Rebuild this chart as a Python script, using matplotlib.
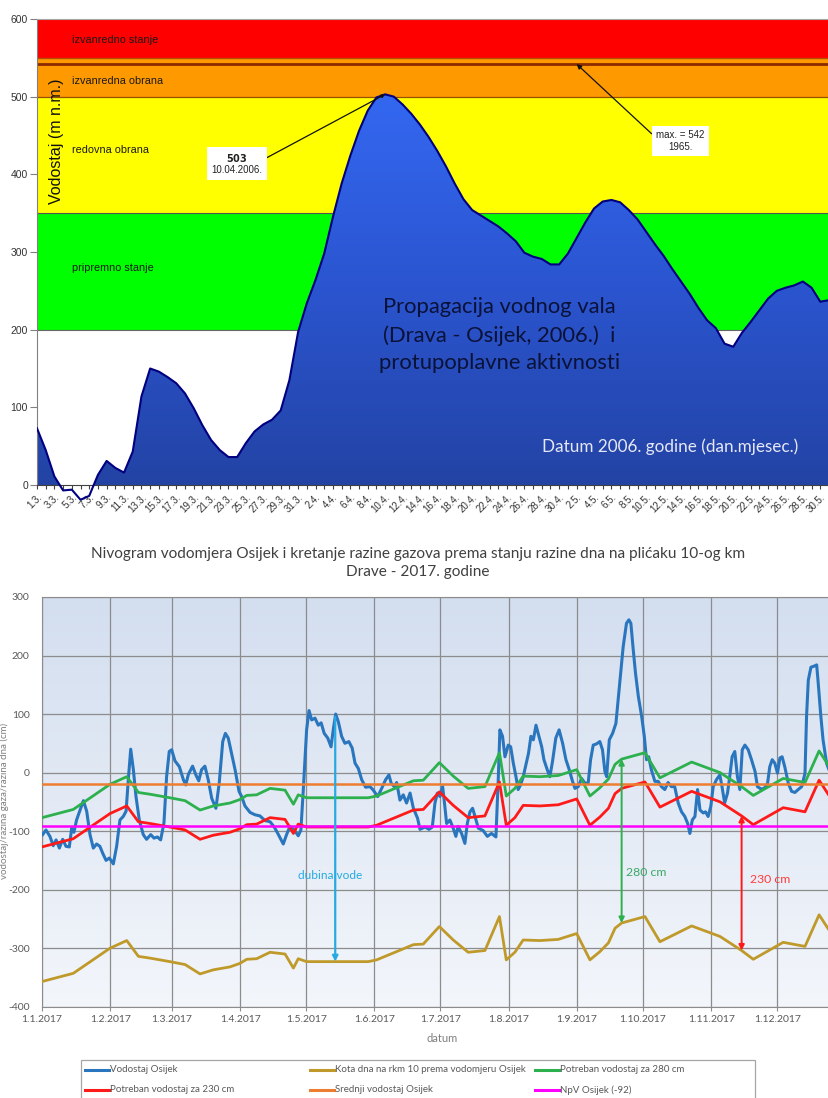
import numpy as np
import pandas as pd
import matplotlib
matplotlib.use("Agg")
import matplotlib.pyplot as plt
from matplotlib.colors import LinearSegmentedColormap
from matplotlib.patches import Polygon, Rectangle
from matplotlib.lines import Line2D

# ---------------- 2006: Drava - Osijek, daily water level from 1.3. ----------------
pocetak_2006 = "2006-03-01"
vodostaj_2006 = [73, 45, 11, -7, -6, -19, -14, 13, 31, 22,
                 16, 43, 114, 150, 146, 139, 131, 118, 99, 77,
                 58, 45, 36, 36, 54, 69, 78, 84, 96, 135,
                 197, 234, 264, 298, 345, 388, 424, 456, 482, 499,
                 503, 500, 490, 478, 464, 448, 430, 410, 388, 368,
                 354, 347, 340, 333, 324, 314, 299, 294, 291, 284,
                 284, 298, 318, 338, 356, 365, 367, 364, 354, 342,
                 326, 310, 295, 278, 262, 246, 228, 212, 202, 182,
                 178, 196, 210, 225, 240, 250, 254, 257, 262, 254,
                 236, 238]

pojas_naziv = ["pripremno stanje", "redovna obrana", "izvanredna obrana", "izvanredno stanje"]
pojas_od = [200, 350, 500, 550]
pojas_do = [350, 500, 550, 600]
pojas_boja = ["#00ff00", "#ffff00", "#ff9900", "#ff0000"]
pojas_tekst_y = [280, 431, 520, 573]
max_1965 = 542
vrh_dan = 40
vrh_cm = 503

# ---------------- 2017: Osijek gauge and ford levels ----------------
vod_dan = [0.3, 1.8, 3.6, 5.1, 6.4, 7.9, 9.4, 10.9, 12.4, 13.5, 14.5, 15.7, 17.3, 18.8, 20.3,
           21.8, 23.3, 24.8, 26.3, 27.6, 29.1, 30.6, 32.4, 33.9, 35.4, 36.9, 38.2, 39.2, 40.3,
           41.5, 42.7, 44.2, 46.0, 47.5, 49.4, 50.9, 52.4, 53.9, 55.4, 56.6, 57.8, 58.9, 60.4,
           62.4, 64.2, 65.3, 66.5, 68.4, 69.9, 71.2, 72.5, 74.0, 75.5, 77.1, 79.0, 80.5, 82.1,
           83.3, 84.6, 86.1, 87.7, 89.5, 90.7, 92.2, 94.5, 96.7, 99.0, 101.3, 103.6, 105.5,
           107.4, 109.6, 111.1, 112.6, 114.6, 116.4, 117.6, 118.7, 120.2, 121.3, 122.5, 124.0,
           125.5, 126.8, 128.2, 129.8, 131.3, 132.3, 133.4, 134.6, 136.1, 137.6, 139.4, 140.9,
           142.2, 143.7, 145.2, 147.0, 149.0, 150.5, 152.5, 154.3, 156.1, 157.6, 158.6, 160.0,
           161.1, 162.6, 164.1, 165.6, 167.2, 168.7, 170.6, 171.7, 174.0, 175.8, 177.3, 178.5,
           179.6, 180.8, 182.0, 183.0, 183.8, 185.3, 186.8, 188.0, 189.0, 190.6, 192.1, 193.2,
           194.4, 195.6, 196.7, 198.2, 200.4, 202.3, 204.2, 206.2, 207.3, 208.0, 209.2, 210.3,
           211.8, 212.9, 214.1, 215.3, 216.3, 217.4, 218.6, 219.8, 221.0, 222.1, 223.2, 224.4,
           225.4, 227.0, 228.0, 229.5, 230.7, 231.9, 233.4, 234.9, 236.5, 238.0, 239.5, 241.0,
           242.1, 243.6, 245.1, 246.6, 248.1, 249.2, 250.4, 251.9, 253.4, 254.6, 255.7, 256.5,
           257.7, 259.2, 260.7, 261.7, 262.8, 264.0, 265.5, 266.6, 267.5, 268.6, 269.6, 270.9,
           272.4, 273.6, 274.6, 275.6, 276.8, 278.4, 279.9, 281.4, 282.9, 284.4, 285.9, 287.4,
           289.0, 290.5, 292.0, 293.3, 294.3, 295.4, 296.6, 297.8, 298.9, 300.4, 301.4, 302.6,
           303.8, 304.9, 306.4, 307.9, 308.9, 310.1, 311.4, 312.4, 313.5, 314.7, 315.9, 317.0,
           318.1, 319.3, 320.8, 322.3, 323.9, 325.0, 326.6, 328.1, 329.6, 330.6, 331.7, 332.9,
           334.1, 335.2, 336.2, 337.4, 339.0, 340.5, 342.0, 343.5, 345.1, 346.6, 347.3, 348.1,
           349.3, 350.8, 351.9, 352.6, 353.8, 354.8, 356.4, 357.5]
vod_cm = [-106, -98, -109, -125, -115, -129, -114, -126, -127, -95, -102, -81, -64, -48, -66,
          -106, -129, -122, -126, -138, -150, -146, -156, -126, -81, -75, -66, -12, 40,
          5, -41, -81, -106, -114, -106, -112, -110, -115, -86, -7, 36, 39, 20,
          10, -12, -21, -3, 11, -4, -14, 5, 11, -12, -44, -61, -18, 53,
          67, 59, 33, 5, -32, -41, -57, -68, -72, -74, -82, -84, -93,
          -106, -122, -106, -92, -98, -108, -98, -29, 73, 106, 90, 93,
          81, 85, 67, 59, 44, 73, 100, 87, 62, 50, 53, 42,
          16, 7, -12, -25, -24, -30, -41, -27, -12, -4, -18, -24,
          -17, -47, -38, -52, -35, -61, -78, -97, -93, -97, -93, -52,
          -35, -41, -24, -58, -87, -81, -95, -109, -92, -104, -121, -87,
          -67, -61, -75, -95, -99, -109, -104, -110, -7, 73, 62, 27,
          47, 44, 16, -7, -29, -21, -7, 13, 33, 62, 56, 81,
          67, 44, 22, 5, -7, 19, 59, 73, 50, 22, 5, -15,
          -27, -24, -10, -18, -18, 22, 47, 49, 53, 39, 2, -7,
          56, 67, 84, 124, 170, 215, 255, 261, 255, 209, 170, 130,
          96, 62, 22, 27, 5, -15, -15, -24, -29, -17, -24, -24,
          -52, -67, -75, -87, -104, -81, -75, -29, -64, -69, -67, -75,
          -58, -24, -12, -4, -24, -52, -35, -7, 27, 36, -7, -29,
          39, 47, 39, 22, 2, -24, -28, -27, -18, 10, 22, 16,
          -1, 25, 27, 10, -18, -32, -34, -29, -24, -1, 96, 158,
          180, 182, 184, 153, 96, 56, 16, 5]

kota_dan = [0, 14.2, 30.9, 38.5, 43.8, 49.1, 58.1, 65.0, 71.8, 77.8, 85.4, 89.9, 93.0, 97.5,
            103.6, 110.4, 114.2, 116.4, 120.2, 148.2, 152.0, 168.7, 173.2, 180.5, 186.8, 193.6,
            201.2, 207.8, 210.9, 214.8, 218.6, 226.2, 234.5, 242.9, 248.9, 253.4, 257.3, 260.3,
            263.3, 273.9, 280.7, 295.1, 308.0, 317.8, 323.1, 336.7, 346.6, 353.0, 357.5]
kota_cm = [-357, -343, -300, -287, -314, -317, -323, -328, -344, -337, -332, -326, -319, -318,
           -307, -310, -334, -318, -323, -323, -320, -294, -293, -263, -286, -307,
           -304, -246, -320, -307, -286, -287, -285, -275, -320, -306, -291, -266,
           -257, -246, -289, -262, -280, -304, -319, -290, -297, -243, -269]

gaz_280 = 280
gaz_230 = 230
srednji_vodostaj = -19
npv = -92
dubina_dan = 133.2
strelica_280_dan = 263.3
strelica_230_dan = 317.8

W, H = 829, 1098
fig = plt.figure(figsize=(W / 100, H / 100), dpi=100)

# ======================= upper chart =======================
px_cm = (485 - 19) / 600.0
y_min = -(502 - 485) / px_cm
ax1 = fig.add_axes([37 / W, 1 - 502 / H, 1 - 37 / W, (502 - 19) / H])
dani = np.arange(len(vodostaj_2006))
vod = np.array(vodostaj_2006, dtype=float)

for lo, hi, c, naziv, ty in zip(pojas_od, pojas_do, pojas_boja, pojas_naziv, pojas_tekst_y):
    ax1.axhspan(lo, hi, color=c, zorder=0, lw=0)
    ax1.text(4.0, ty, naziv, fontsize=7.8, family="Liberation Sans", color="#1a1a1a",
             va="center", ha="left", zorder=1)
ax1.axhline(200, color="#666666", lw=0.8, zorder=0.5)
ax1.axhline(350, color="#555555", lw=0.8, zorder=0.5)
ax1.axhline(500, color="#995000", lw=0.9, zorder=0.5)
ax1.axhline(550, color="#b34d00", lw=1.0, zorder=0.5)
ax1.axhline(max_1965, color="#8b2a00", lw=2.0, zorder=0.5)

# blue gradient area clipped to the hydrograph
verts = np.column_stack([np.r_[dani[0], dani, dani[-1]], np.r_[0, vod, 0]])
poly = Polygon(verts, closed=True, facecolor="none", edgecolor="none", transform=ax1.transData)
ax1.add_patch(poly)
plava = LinearSegmentedColormap.from_list("plava", ["#2343a4", "#2b55d0", "#3468f2"])
im = ax1.imshow(np.linspace(0, 1, 256).reshape(-1, 1), extent=[0, 92, 0, 510],
                aspect="auto", origin="lower", cmap=plava, zorder=2)
im.set_clip_path(poly)
ax1.plot(dani, vod, color="#000080", lw=1.5, zorder=3)
ax1.set_xlim(0, 90.8)
ax1.set_ylim(y_min, 600)

ax1.spines["right"].set_visible(False)
ax1.spines["top"].set_color("#a6a6a6")
ax1.spines["left"].set_color("#808080")
ax1.spines["left"].set_bounds(0, 600)
ax1.spines["bottom"].set_position(("data", 0))
ax1.spines["bottom"].set_color("#404040")

datumi_2006 = pd.date_range(pocetak_2006, periods=len(vodostaj_2006))
ax1.set_xticks(dani)
ax1.set_xticklabels([f"{d.day}.{d.month}." if i % 2 == 0 else "" for i, d in enumerate(datumi_2006)],
                    rotation=45, ha="right", rotation_mode="anchor", fontsize=7,
                    family="Liberation Sans", color="#333333")
ax1.tick_params(axis="x", length=3, width=0.8, color="#404040", pad=2)
ax1.set_yticks(range(0, 601, 100))
ax1.set_yticklabels([str(v) for v in range(0, 601, 100)], fontsize=7.5,
                    family="Liberation Sans", color="#333333")
ax1.tick_params(axis="y", length=5, width=0.8, color="#808080", pad=1.5)

ax1.text(2.2, 442, "Vodostaj (m n.m.)", rotation=90, ha="center", va="center",
         fontsize=11.5, family="Liberation Sans", color="#111111", zorder=4)

ax1.annotate(f"$\\bf{{{vrh_cm}}}$\n10.04.2006.", xy=(vrh_dan, vrh_cm), xytext=(23.0, 414),
             ha="center", va="center", fontsize=7, family="Liberation Sans", color="#222222",
             bbox=dict(boxstyle="square,pad=0.45", fc="white", ec="none"),
             arrowprops=dict(arrowstyle="-|>", color="#111111", lw=0.9, mutation_scale=5,
                             shrinkA=0, shrinkB=0, relpos=(1.0, 0.65)), zorder=5)
ax1.annotate(f"max. = {max_1965}\n1965.", xy=(62, max_1965), xytext=(73.9, 443),
             ha="center", va="center", fontsize=7, family="Liberation Sans", color="#222222",
             bbox=dict(boxstyle="square,pad=0.45", fc="white", ec="none"),
             arrowprops=dict(arrowstyle="-|>", color="#111111", lw=0.9, mutation_scale=7,
                             shrinkA=0, shrinkB=0, relpos=(-0.05, 0.75)), zorder=5)

ax1.text(53.1, 193, "Propagacija vodnog vala\n(Drava - Osijek, 2006.)  i\nprotupoplavne aktivnosti",
         ha="center", va="center", fontsize=15.8, family="Lato", color="#0a1238",
         linespacing=1.45, zorder=4)
ax1.text(72.7, 49, "Datum 2006. godine (dan.mjesec.)", ha="center", va="center",
         fontsize=12.3, family="Lato", color="#e6e8f5", zorder=4)

# ======================= lower chart =======================
fig.text(418 / W, 1 - 563 / H,
         "Nivogram vodomjera Osijek i kretanje razine gazova prema stanju razine dna na plićaku 10-og km\n"
         "Drave - 2017. godine", ha="center", va="center", fontsize=11.1, family="Lato",
         color="#404040", linespacing=1.35)

ax2 = fig.add_axes([42 / W, 1 - 1006.7 / H, 1 - 42 / W, (1006.7 - 597) / H])
pozadina = LinearSegmentedColormap.from_list("pozadina", ["#f3f6fb", "#d3deef"])
ax2.imshow(np.linspace(0, 1, 256).reshape(-1, 1), extent=[0, 357.5, -400, 300],
           aspect="auto", origin="lower", cmap=pozadina, zorder=0)
ax2.set_xlim(0, 357.5)
ax2.set_ylim(-400, 300)
ax2.set_axisbelow(True)

kota = np.array(kota_cm, dtype=float)
l_vod, = ax2.plot(vod_dan, vod_cm, color="#2a76be", lw=2.2, zorder=3)
l_kota, = ax2.plot(kota_dan, kota, color="#bf9a2a", lw=2.0, zorder=3)
l_280, = ax2.plot(kota_dan, kota + gaz_280, color="#2db04e", lw=2.0, zorder=3)
l_230, = ax2.plot(kota_dan, kota + gaz_230, color="#ff1a1a", lw=2.0, zorder=3)
l_sred = ax2.axhline(srednji_vodostaj, color="#ed7d31", lw=1.8, zorder=3)
l_npv = ax2.axhline(npv, color="#ff00ff", lw=1.8, zorder=3)

# depth arrows
vrh = np.interp(dubina_dan, vod_dan, vod_cm)
dno = np.interp(dubina_dan, kota_dan, kota)
ax2.annotate("", xy=(dubina_dan, dno), xytext=(dubina_dan, vrh),
             arrowprops=dict(arrowstyle="-|>", color="#27aae1", lw=1.6, mutation_scale=8,
                             shrinkA=0, shrinkB=0), zorder=4)
ax2.text(130.8, -175, "dubina vode", color="#27aae1", fontsize=8.6, family="Lato",
         ha="center", va="center", zorder=4)

dno = np.interp(strelica_280_dan, kota_dan, kota)
ax2.annotate("", xy=(strelica_280_dan, dno), xytext=(strelica_280_dan, dno + gaz_280),
             arrowprops=dict(arrowstyle="<|-|>", color="#2db04e", lw=1.4, mutation_scale=8,
                             shrinkA=0, shrinkB=0), zorder=4)
ax2.text(274.3, -171, f"{gaz_280} cm", color="#3aa864", fontsize=8.8, family="Lato",
         ha="center", va="center", zorder=4)

dno = np.interp(strelica_230_dan, kota_dan, kota)
ax2.annotate("", xy=(strelica_230_dan, dno), xytext=(strelica_230_dan, dno + gaz_230),
             arrowprops=dict(arrowstyle="<|-|>", color="#ff1a1a", lw=1.4, mutation_scale=8,
                             shrinkA=0, shrinkB=0), zorder=4)
ax2.text(330.7, -183, f"{gaz_230} cm", color="#ff3b3b", fontsize=8.8, family="Lato",
         ha="center", va="center", zorder=4)

mjeseci = pd.date_range("2017-01-01", periods=12, freq="MS")
ax2.set_xticks((mjeseci - mjeseci[0]).days)
ax2.set_xticklabels([f"{d.day}.{d.month}.{d.year}" for d in mjeseci], fontsize=7.5,
                    family="Lato", color="#595959")
ax2.set_yticks(range(-400, 301, 100))
ax2.set_yticklabels([str(v) for v in range(-400, 301, 100)], fontsize=7.5,
                    family="Lato", color="#595959")
ax2.tick_params(axis="x", length=3, color="#8c8c8c", pad=3)
ax2.tick_params(axis="y", length=0, pad=9)
ax2.grid(True, color="#8c8c8c", lw=0.9)
ax2.spines["right"].set_visible(False)
for s in ["left", "top", "bottom"]:
    ax2.spines[s].set_color("#8c8c8c")

fig.text(442 / W, 1 - 1038 / H, "datum", ha="center", va="center", fontsize=8,
         family="Lato", color="#7f7f7f")
fig.text(4 / W, 1 - 801 / H, "vodostaj/razina gaza/razina dna (cm)", rotation=90,
         ha="center", va="center", fontsize=7, family="Lato", color="#7f7f7f")

# legend box, three columns
fig.add_artist(Rectangle((81 / W, 1 - 1112 / H), (755 - 81) / W, (1112 - 1060) / H,
                         transform=fig.transFigure, fill=False, ec="#a6a6a6", lw=0.9))
stavke = [(l_vod, "Vodostaj Osijek"), (l_kota, "Kota dna na rkm 10 prema vodomjeru Osijek"),
          (l_280, "Potreban vodostaj za 280 cm"), (l_230, "Potreban vodostaj za 230 cm"),
          (l_sred, "Srednji vodostaj Osijek"), (l_npv, "NpV Osijek (-92)")]
stupci_x = [85, 310, 535]
redovi_y = [1070, 1090]
for i, (linija, tekst) in enumerate(stavke):
    x0 = stupci_x[i % 3]
    y0 = redovi_y[i // 3]
    fig.add_artist(Line2D([x0 / W, (x0 + 24) / W], [1 - y0 / H, 1 - y0 / H],
                          transform=fig.transFigure, color=linija.get_color(), lw=2.2))
    fig.text((x0 + 25) / W, 1 - y0 / H, tekst, ha="left", va="center", fontsize=7.0,
             family="Lato", color="#595959")

fig.savefig("out.png", dpi=100)
